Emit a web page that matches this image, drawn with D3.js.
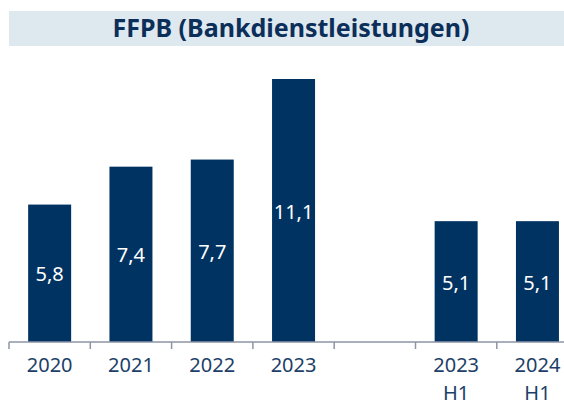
<!DOCTYPE html>
<html>
<head>
<meta charset="utf-8">
<script src="https://cdn.jsdelivr.net/npm/d3@7/dist/d3.min.js"></script>
<style>
  body { margin: 0; background: #fff; }
  svg { display: block; font-family: "Noto Sans", "Open Sans", sans-serif; }
</style>
</head>
<body>
<svg width="564" height="405"></svg>
<script>
// chart data
var categories = ["2020", "2021", "2022", "2023", "gap", "2023 H1", "2024 H1"];
var values = [5.8, 7.4, 7.7, 11.1, null, 5.1, 5.1];
var tickLabels = [["2020"], ["2021"], ["2022"], ["2023"], [""], ["2023", "H1"], ["2024", "H1"]];
var title = "FFPB (Bankdienstleistungen)";

var navy = "#003361";
var baseline = 342;
var plotTop = 79;

var svg = d3.select("svg");

// title bar
svg.append("rect")
    .attr("x", 9).attr("y", 11)
    .attr("width", 555).attr("height", 35)
    .attr("fill", "#dee8ef");
svg.append("text")
    .attr("x", 291).attr("y", 37)
    .attr("text-anchor", "middle")
    .attr("font-size", 25)
    .attr("font-weight", "bold")
    .attr("fill", "#0c2f5a")
    .text(title);

var xs = d3.scaleBand().domain(categories).range([9, 9 + 81.3 * 7]);
var ys = d3.scaleLinear().domain([0, 11.1]).range([baseline, plotTop]);
var barW = 43;

var data = categories.map(function(c, i) { return {cat: c, v: values[i]}; })
    .filter(function(d) { return d.v != null; });

svg.selectAll("rect.bar").data(data).enter().append("rect")
    .attr("class", "bar")
    .attr("x", function(d) { return xs(d.cat) + xs.bandwidth() / 2 - barW / 2; })
    .attr("y", function(d) { return ys(d.v); })
    .attr("width", barW)
    .attr("height", function(d) { return baseline - ys(d.v); })
    .attr("fill", navy);

svg.selectAll("text.val").data(data).enter().append("text")
    .attr("class", "val")
    .attr("x", function(d) { return xs(d.cat) + xs.bandwidth() / 2; })
    .attr("y", function(d) { return (ys(d.v) + baseline) / 2 + 8; })
    .attr("text-anchor", "middle")
    .attr("font-size", 20)
    .attr("fill", "#fff")
    .text(function(d) { return d3.format(".1f")(d.v).replace(".", ","); });

// x axis
var axisColor = "#8d95a5";
var gx = svg.append("g").attr("transform", "translate(0," + baseline + ")");
gx.append("line")
    .attr("x1", 9).attr("x2", 564)
    .attr("stroke", axisColor).attr("stroke-width", 1.5);
gx.selectAll("line.tick").data(categories).enter().append("line")
    .attr("class", "tick")
    .attr("x1", function(d) { return xs(d); }).attr("x2", function(d) { return xs(d); })
    .attr("y1", 0).attr("y2", 7)
    .attr("stroke", axisColor).attr("stroke-width", 1.5);

var lab = gx.selectAll("text.lab").data(categories).enter().append("text")
    .attr("class", "lab")
    .attr("text-anchor", "middle")
    .attr("font-size", 20)
    .attr("fill", "#1d3f68");
lab.each(function(d, i) {
    var t = d3.select(this);
    tickLabels[i].forEach(function(s, j) {
        t.append("tspan")
            .attr("x", xs(d) + xs.bandwidth() / 2)
            .attr("y", 30 + j * 28)
            .text(s);
    });
});
</script>
</body>
</html>
